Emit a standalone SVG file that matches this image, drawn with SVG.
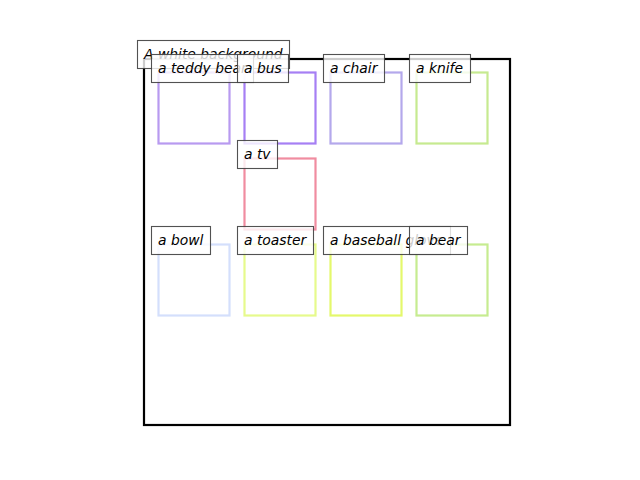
<svg xmlns="http://www.w3.org/2000/svg" width="640" height="480" viewBox="0 0 640 480">
<style>
.box{fill:none;stroke-width:2.2}
.lbl{fill:#fff;fill-opacity:0.8;stroke:#3f3f3f;stroke-opacity:0.9;stroke-width:1.1}
.t{font-family:"DejaVu Sans",sans-serif;font-style:oblique;font-size:13.89px;fill:#000}
</style>
<rect width="640" height="480" fill="#fff"/>
<g id="frame">
<rect x="144" y="59" width="366" height="366" fill="none" stroke="#000" stroke-width="2.2"/>
</g>
<g id="regions">
<rect id="r-teddy" class="box" x="158.5" y="72.5" width="71" height="71" stroke="#b89af0"/>
<rect id="r-bus" class="box" x="244.5" y="72.5" width="71" height="71" stroke="#a67ff4"/>
<rect id="r-chair" class="box" x="330.5" y="72.5" width="71" height="71" stroke="#b4a8ec"/>
<rect id="r-knife" class="box" x="416.5" y="72.5" width="71" height="71" stroke="#c6ea90"/>
<rect id="r-tv" class="box" x="244.5" y="158.5" width="71" height="71" stroke="#f08ca0"/>
<rect id="r-bowl" class="box" x="158.5" y="244.5" width="71" height="71" stroke="#d4dffc"/>
<rect id="r-toaster" class="box" x="244.5" y="244.5" width="71" height="71" stroke="#e6fa8c"/>
<rect id="r-glove" class="box" x="330.5" y="244.5" width="71" height="71" stroke="#e4f86c"/>
<rect id="r-bear" class="box" x="416.5" y="244.5" width="71" height="71" stroke="#c6ec90"/>
</g>
<g id="labels">
<g id="l-background"><rect class="lbl" x="137.5" y="40.5" width="152" height="28"/><text class="t" x="144" y="59">A white background</text></g>
<g id="l-teddy"><rect class="lbl" x="151.5" y="54.5" width="102" height="28"/><text class="t" x="158" y="73">a teddy bear</text></g>
<g id="l-bus"><rect class="lbl" x="237.5" y="54.5" width="51" height="28"/><text class="t" x="244" y="73">a bus</text></g>
<g id="l-chair"><rect class="lbl" x="323.5" y="54.5" width="61" height="28"/><text class="t" x="330" y="73">a chair</text></g>
<g id="l-knife"><rect class="lbl" x="409.5" y="54.5" width="61" height="28"/><text class="t" x="416" y="73">a knife</text></g>
<g id="l-tv"><rect class="lbl" x="237.5" y="140.5" width="40" height="28"/><text class="t" x="244" y="159">a tv</text></g>
<g id="l-bowl"><rect class="lbl" x="151.5" y="226.5" width="59" height="28"/><text class="t" x="158" y="245">a bowl</text></g>
<g id="l-toaster"><rect class="lbl" x="237.5" y="226.5" width="76" height="28"/><text class="t" x="244" y="245">a toaster</text></g>
<g id="l-glove"><rect class="lbl" x="323.5" y="226.5" width="127" height="28"/><text class="t" x="330" y="245">a baseball glove</text></g>
<g id="l-bear"><rect class="lbl" x="409.5" y="226.5" width="58" height="28"/><text class="t" x="416" y="245">a bear</text></g>
</g>
</svg>
